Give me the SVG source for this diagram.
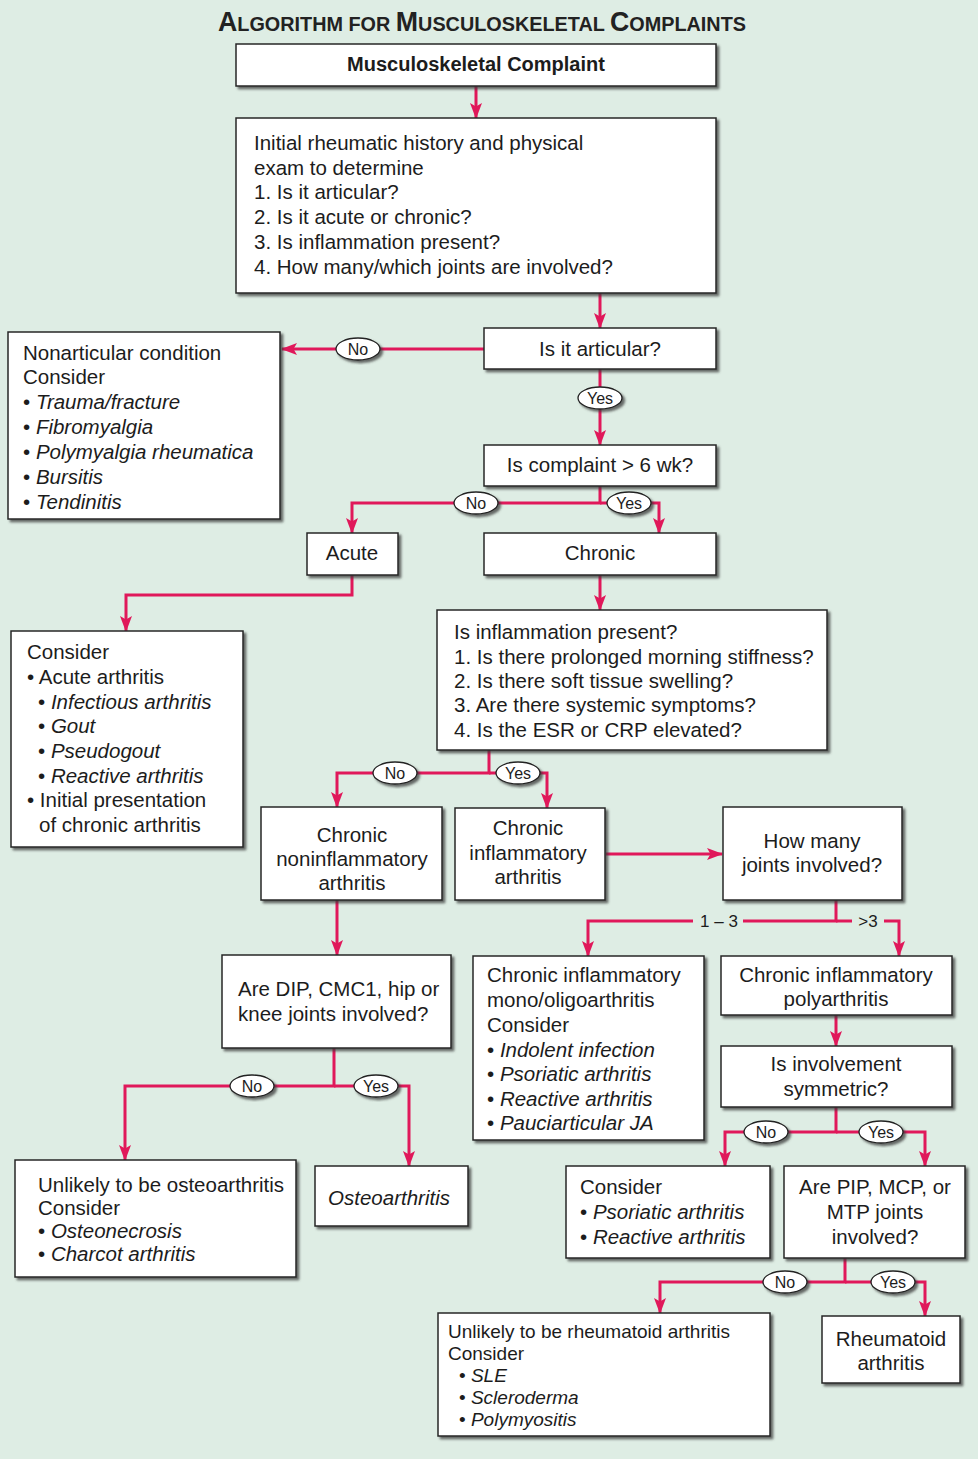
<svg xmlns="http://www.w3.org/2000/svg" width="978" height="1459" viewBox="0 0 978 1459">
<defs>
<filter id="sh" x="-10%" y="-10%" width="130%" height="130%">
<feDropShadow dx="2.5" dy="2.5" stdDeviation="0.9" flood-color="#3a3a3a" flood-opacity="0.75"/>
</filter>
<marker id="ah" markerUnits="userSpaceOnUse" markerWidth="16" markerHeight="14" refX="15" refY="7" orient="auto">
<path d="M0,1 L16,7 L0,13 L3.5,7 z" fill="#e0185a"/>
</marker>
<style>
.t{font-family:"Liberation Sans",Arial,Helvetica,sans-serif;font-size:20.5px;fill:#1c1c1c}
.i{font-style:italic}
.c{text-anchor:middle}
.b{font-weight:bold}
.box{fill:#fff;stroke:#262626;stroke-width:1.5;filter:url(#sh)}
.ln{fill:none;stroke:#e0185a;stroke-width:3}
.ar{marker-end:url(#ah)}
.el{fill:#fff;stroke:#222;stroke-width:1.3;filter:url(#sh)}
.lt{font-family:"Liberation Sans",Arial,Helvetica,sans-serif;font-size:16px;fill:#1c1c1c;text-anchor:middle}
.nl{font-family:"Liberation Sans",Arial,Helvetica,sans-serif;font-size:17px;fill:#1c1c1c;text-anchor:middle}
.sm{font-size:19px}
</style>
</defs>
<rect x="0" y="0" width="978" height="1459" fill="#deede4"/>

<text x="482" y="31" class="t b c" textLength="528" lengthAdjust="spacingAndGlyphs" style="font-size:20px;fill:#222"><tspan style="font-size:27px">A</tspan>LGORITHM FOR  <tspan style="font-size:27px">M</tspan>USCULOSKELETAL <tspan style="font-size:27px">C</tspan>OMPLAINTS</text>

<g id="connectors">
<path class="ln ar" d="M476,86 V118"/>
<path class="ln ar" d="M600,293 V328"/>
<path class="ln ar" d="M484,349 H282"/>
<path class="ln ar" d="M600,369 V445"/>
<path class="ln ar" d="M600,486 V503 H352 V533"/>
<path class="ln ar" d="M600,503 H659 V533"/>
<path class="ln ar" d="M352,575 V595 H126 V631"/>
<path class="ln ar" d="M600,575 V610"/>
<path class="ln ar" d="M489,750 V773 H337 V807"/>
<path class="ln ar" d="M489,773 H547 V808"/>
<path class="ln ar" d="M606,854 H722"/>
<path class="ln ar" d="M337,900 V955"/>
<path class="ln" d="M836,900 V921 H743"/>
<path class="ln ar" d="M693,921 H588 V956"/>
<path class="ln" d="M836,921 H852"/>
<path class="ln ar" d="M884,921 H899 V956"/>
<path class="ln ar" d="M334,1048 V1086 H125 V1160"/>
<path class="ln ar" d="M334,1086 H409 V1166"/>
<path class="ln ar" d="M836,1015 V1046"/>
<path class="ln ar" d="M836,1107 V1132 H725 V1166"/>
<path class="ln ar" d="M836,1132 H925 V1166"/>
<path class="ln ar" d="M845,1258 V1282 H660 V1313"/>
<path class="ln ar" d="M845,1282 H925 V1316"/>
<text x="719" y="927" class="nl">1 – 3</text>
<text x="868" y="927" class="nl">&gt;3</text>
<g id="lbl-no1"><ellipse class="el" cx="358" cy="349" rx="22" ry="11"/><text x="358" y="355" class="lt">No</text></g>
<g id="lbl-yes1"><ellipse class="el" cx="600" cy="398" rx="22" ry="11"/><text x="600" y="404" class="lt">Yes</text></g>
<g id="lbl-no2"><ellipse class="el" cx="476" cy="503" rx="22" ry="11"/><text x="476" y="509" class="lt">No</text></g>
<g id="lbl-yes2"><ellipse class="el" cx="629" cy="503" rx="22" ry="11"/><text x="629" y="509" class="lt">Yes</text></g>
<g id="lbl-no3"><ellipse class="el" cx="395" cy="773" rx="22" ry="11"/><text x="395" y="779" class="lt">No</text></g>
<g id="lbl-yes3"><ellipse class="el" cx="518" cy="773" rx="22" ry="11"/><text x="518" y="779" class="lt">Yes</text></g>
<g id="lbl-no4"><ellipse class="el" cx="252" cy="1086" rx="22" ry="11"/><text x="252" y="1092" class="lt">No</text></g>
<g id="lbl-yes4"><ellipse class="el" cx="376" cy="1086" rx="22" ry="11"/><text x="376" y="1092" class="lt">Yes</text></g>
<g id="lbl-no5"><ellipse class="el" cx="766" cy="1132" rx="22" ry="11"/><text x="766" y="1138" class="lt">No</text></g>
<g id="lbl-yes5"><ellipse class="el" cx="881" cy="1132" rx="22" ry="11"/><text x="881" y="1138" class="lt">Yes</text></g>
<g id="lbl-no6"><ellipse class="el" cx="785" cy="1282" rx="22" ry="11"/><text x="785" y="1288" class="lt">No</text></g>
<g id="lbl-yes6"><ellipse class="el" cx="893" cy="1282" rx="22" ry="11"/><text x="893" y="1288" class="lt">Yes</text></g>
</g>

<g id="n-start"><rect class="box" x="236" y="44" width="480" height="42"/><text x="476" y="71" class="t b c" style="font-size:20px">Musculoskeletal Complaint</text></g>

<g id="n-history"><rect class="box" x="236" y="118" width="480" height="175"/>
<text class="t"><tspan x="254" y="150">Initial rheumatic history and physical</tspan><tspan x="254" y="175">exam to determine</tspan><tspan x="254" y="199">1. Is it articular?</tspan><tspan x="254" y="224">2. Is it acute or chronic?</tspan><tspan x="254" y="249">3. Is inflammation present?</tspan><tspan x="254" y="274">4. How many/which joints are involved?</tspan></text></g>

<g id="n-articular"><rect class="box" x="484" y="328" width="232" height="41"/><text x="600" y="356" class="t c">Is it articular?</text></g>

<g id="n-nonarticular"><rect class="box" x="8" y="332" width="272" height="187"/>
<text class="t"><tspan x="23" y="360">Nonarticular condition</tspan><tspan x="23" y="384">Consider</tspan><tspan x="23" y="409">• <tspan class="i">Trauma/fracture</tspan></tspan><tspan x="23" y="434">• <tspan class="i">Fibromyalgia</tspan></tspan><tspan x="23" y="459">• <tspan class="i">Polymyalgia rheumatica</tspan></tspan><tspan x="23" y="484">• <tspan class="i">Bursitis</tspan></tspan><tspan x="23" y="509">• <tspan class="i">Tendinitis</tspan></tspan></text></g>

<g id="n-sixwk"><rect class="box" x="484" y="445" width="232" height="41"/><text x="600" y="472" class="t c">Is complaint &gt; 6 wk?</text></g>

<g id="n-acute"><rect class="box" x="307" y="533" width="91" height="42"/><text x="352" y="560" class="t c">Acute</text></g>
<g id="n-chronic"><rect class="box" x="484" y="533" width="232" height="42"/><text x="600" y="560" class="t c">Chronic</text></g>

<g id="n-acute-consider"><rect class="box" x="11" y="631" width="232" height="216"/>
<text class="t"><tspan x="27" y="659">Consider</tspan><tspan x="27" y="684">• Acute arthritis</tspan><tspan x="38" y="709">• <tspan class="i">Infectious arthritis</tspan></tspan><tspan x="38" y="733">• <tspan class="i">Gout</tspan></tspan><tspan x="38" y="758">• <tspan class="i">Pseudogout</tspan></tspan><tspan x="38" y="783">• <tspan class="i">Reactive arthritis</tspan></tspan><tspan x="27" y="807">• Initial presentation</tspan><tspan x="39" y="832">of chronic arthritis</tspan></text></g>

<g id="n-inflammation"><rect class="box" x="437" y="610" width="390" height="140"/>
<text class="t"><tspan x="454" y="639">Is inflammation present?</tspan><tspan x="454" y="664">1. Is there prolonged morning stiffness?</tspan><tspan x="454" y="688">2. Is there soft tissue swelling?</tspan><tspan x="454" y="712">3. Are there systemic symptoms?</tspan><tspan x="454" y="737">4. Is the ESR or CRP elevated?</tspan></text></g>

<g id="n-noninflam"><rect class="box" x="261" y="807" width="181" height="93"/>
<text class="t c"><tspan x="352" y="842">Chronic</tspan><tspan x="352" y="866">noninflammatory</tspan><tspan x="352" y="890">arthritis</tspan></text></g>

<g id="n-inflam"><rect class="box" x="455" y="808" width="150" height="92"/>
<text class="t c"><tspan x="528" y="835">Chronic</tspan><tspan x="528" y="860">inflammatory</tspan><tspan x="528" y="884">arthritis</tspan></text></g>

<g id="n-howmany"><rect class="box" x="723" y="807" width="179" height="93"/>
<text class="t c"><tspan x="812" y="848">How many</tspan><tspan x="812" y="872">joints involved?</tspan></text></g>

<g id="n-dip"><rect class="box" x="222" y="955" width="229" height="93"/>
<text class="t"><tspan x="238" y="996">Are DIP, CMC1, hip or</tspan><tspan x="238" y="1021">knee joints involved?</tspan></text></g>

<g id="n-mono"><rect class="box" x="473" y="956" width="231" height="184"/>
<text class="t"><tspan x="487" y="982">Chronic inflammatory</tspan><tspan x="487" y="1007">mono/oligoarthritis</tspan><tspan x="487" y="1032">Consider</tspan><tspan x="487" y="1057">• <tspan class="i">Indolent infection</tspan></tspan><tspan x="487" y="1081">• <tspan class="i">Psoriatic arthritis</tspan></tspan><tspan x="487" y="1106">• <tspan class="i">Reactive arthritis</tspan></tspan><tspan x="487" y="1130">• <tspan class="i">Pauciarticular JA</tspan></tspan></text></g>

<g id="n-poly"><rect class="box" x="721" y="956" width="231" height="59"/>
<text class="t c"><tspan x="836" y="982">Chronic inflammatory</tspan><tspan x="836" y="1006">polyarthritis</tspan></text></g>

<g id="n-symmetric"><rect class="box" x="721" y="1046" width="231" height="61"/>
<text class="t c"><tspan x="836" y="1071">Is involvement</tspan><tspan x="836" y="1096">symmetric?</tspan></text></g>

<g id="n-unlikely-oa"><rect class="box" x="15" y="1160" width="281" height="117"/>
<text class="t"><tspan x="38" y="1192">Unlikely to be osteoarthritis</tspan><tspan x="38" y="1215">Consider</tspan><tspan x="38" y="1238">• <tspan class="i">Osteonecrosis</tspan></tspan><tspan x="38" y="1261">• <tspan class="i">Charcot arthritis</tspan></tspan></text></g>

<g id="n-oa"><rect class="box" x="315" y="1166" width="153" height="60"/><text x="389" y="1205" class="t c i">Osteoarthritis</text></g>

<g id="n-consider-psa"><rect class="box" x="566" y="1166" width="204" height="92"/>
<text class="t"><tspan x="580" y="1194">Consider</tspan><tspan x="580" y="1219">• <tspan class="i">Psoriatic arthritis</tspan></tspan><tspan x="580" y="1244">• <tspan class="i">Reactive arthritis</tspan></tspan></text></g>

<g id="n-pip"><rect class="box" x="784" y="1166" width="181" height="92"/>
<text class="t c"><tspan x="875" y="1194">Are PIP, MCP, or</tspan><tspan x="875" y="1219">MTP joints</tspan><tspan x="875" y="1244">involved?</tspan></text></g>

<g id="n-unlikely-ra"><rect class="box" x="438" y="1313" width="332" height="123"/>
<text class="t sm"><tspan x="448" y="1338">Unlikely to be rheumatoid arthritis</tspan><tspan x="448" y="1360">Consider</tspan><tspan x="459" y="1382">• <tspan class="i">SLE</tspan></tspan><tspan x="459" y="1404">• <tspan class="i">Scleroderma</tspan></tspan><tspan x="459" y="1426">• <tspan class="i">Polymyositis</tspan></tspan></text></g>

<g id="n-ra"><rect class="box" x="822" y="1316" width="138" height="67"/>
<text class="t c"><tspan x="891" y="1346">Rheumatoid</tspan><tspan x="891" y="1370">arthritis</tspan></text></g>
</svg>
